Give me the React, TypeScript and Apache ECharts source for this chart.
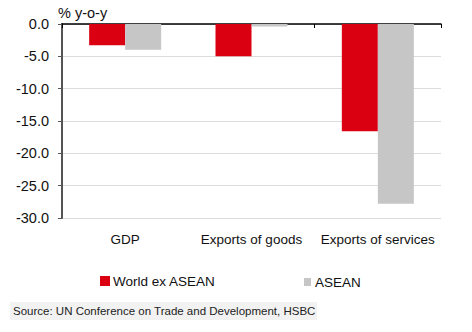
import React, { useEffect, useRef } from "react";
import * as echarts from "echarts";

const categories = ["GDP", "Exports of goods", "Exports of services"];
const worldExAsean = [-3.3, -5.0, -16.6];
const asean = [-4.0, -0.4, -27.8];
const seriesNames = ["World ex ASEAN", "ASEAN"];
const yMin = -30;
const yMax = 0;
const yInterval = 5;
const unitLabel = "% y-o-y";
const sourceText = "Source: UN Conference on Trade and Development, HSBC";

const RED = "#DB0011";
const GREY = "#C6C6C6";
const FONT = "'Liberation Sans', Arial, sans-serif";

export default function App() {
  const ref = useRef<HTMLDivElement>(null);
  useEffect(() => {
    if (!ref.current) return;
    const chart = echarts.init(ref.current, null, { renderer: "svg" });
    chart.setOption({
      animation: false,
      backgroundColor: "#ffffff",
      textStyle: { fontFamily: FONT },
      grid: { left: 62, right: 31, top: 24, bottom: 114, containLabel: false },
      xAxis: [
        {
          type: "category",
          data: categories,
          position: "bottom",
          axisLine: { show: false },
          axisTick: { show: false },
          axisLabel: {
            color: "#111",
            fontSize: 13.5,
            fontFamily: FONT,
            margin: 14,
            interval: 0,
            hideOverlap: false,
          },
        },
        {
          type: "category",
          data: categories,
          position: "top",
          axisLine: { show: true, onZero: false, lineStyle: { color: "#000", width: 1.5 } },
          axisTick: { show: true, inside: true, length: 4, lineStyle: { color: "#000", width: 1 } },
          axisLabel: { show: false },
        },
      ],
      yAxis: {
        type: "value",
        min: yMin,
        max: yMax,
        interval: yInterval,
        axisLine: { show: true, lineStyle: { color: "#555", width: 2 } },
        axisTick: { show: true, length: 4, lineStyle: { color: "#555", width: 1 } },
        axisLabel: {
          color: "#111",
          fontSize: 14.5,
          fontFamily: FONT,
          margin: 13,
          formatter: (v: number) => v.toFixed(1),
        },
        splitLine: { show: true, lineStyle: { color: "#dcdcdc", width: 1 } },
      },
      legend: [
        {
          data: [{ name: seriesNames[0], icon: "rect" }],
          left: 100,
          top: 274,
          itemWidth: 10,
          itemHeight: 10,
          textStyle: { fontSize: 13.5, color: "#111", fontFamily: FONT, padding: [0, 0, 0, -2] },
          selectedMode: false,
          padding: 0,
        },
        {
          data: [{ name: seriesNames[1], icon: "rect" }],
          left: 304,
          top: 275,
          itemWidth: 7,
          itemHeight: 8,
          textStyle: { fontSize: 13.5, color: "#111", fontFamily: FONT, padding: [0, 0, 0, -1] },
          selectedMode: false,
          padding: 0,
        },
      ],
      series: [
        {
          name: seriesNames[0],
          type: "bar",
          data: worldExAsean,
          barWidth: 36,
          barGap: "0%",
          itemStyle: { color: RED },
        },
        {
          name: seriesNames[1],
          type: "bar",
          data: asean,
          barWidth: 36,
          barGap: "0%",
          itemStyle: { color: GREY },
        },
      ],
      graphic: [
        {
          type: "text",
          left: 58,
          top: 5,
          style: { text: unitLabel, fontSize: 14.5, fill: "#111", fontFamily: FONT },
        },
        {
          type: "rect",
          shape: { x: 10, y: 302, width: 307, height: 18 },
          style: { fill: "#f2f2f2" },
          z: 0,
        },
        {
          type: "text",
          x: 13,
          y: 311,
          style: {
            text: sourceText,
            fontSize: 11.5,
            fill: "#222",
            fontFamily: FONT,
            verticalAlign: "middle",
          },
          z: 1,
        },
      ],
    });
    return () => chart.dispose();
  }, []);
  return (
    <div
      ref={ref}
      style={{ position: "fixed", left: 0, top: 0, width: 472, height: 332 }}
    />
  );
}
